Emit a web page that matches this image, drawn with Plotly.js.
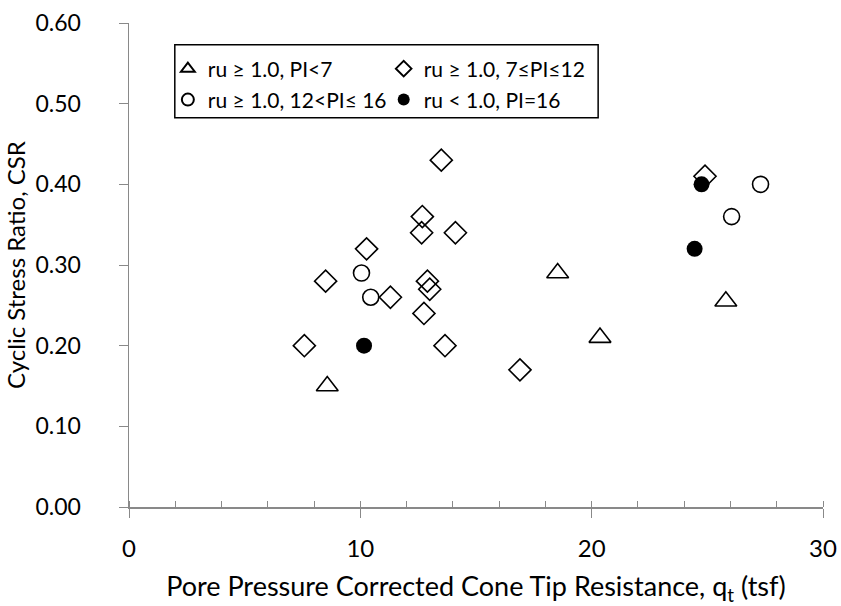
<!DOCTYPE html>
<html>
<head>
<meta charset="utf-8">
<script src="https://cdn.plot.ly/plotly-3.0.1.min.js"></script>
<style>html,body{margin:0;padding:0;background:#fff;}#chart{width:841px;height:606px;}</style>
</head>
<body>
<div id="chart"></div>
<script>
// Series: ru >= 1.0, PI < 7 (open triangles)
const triX = [8.57, 18.53, 20.36, 25.8];
const triY = [0.15, 0.29, 0.21, 0.255];
// Series: ru >= 1.0, 7 <= PI <= 12 (open diamonds)
const diaX = [7.58, 8.5, 10.27, 11.3, 12.75, 12.65, 12.68, 13.5, 14.11, 12.9, 13.0, 13.66, 16.9, 24.9];
const diaY = [0.20, 0.28, 0.32, 0.26, 0.24, 0.34, 0.36, 0.43, 0.34, 0.28, 0.27, 0.20, 0.17, 0.41];
// Series: ru >= 1.0, 12 < PI <= 16 (open circles)
const cirX = [10.05, 10.45, 26.05, 27.3];
const cirY = [0.29, 0.26, 0.36, 0.40];
// Series: ru < 1.0, PI = 16 (filled circles)
const filX = [10.16, 24.45, 24.75];
const filY = [0.20, 0.32, 0.40];

const names = ['ru ≥ 1.0, PI<7', 'ru ≥ 1.0, 7≤PI≤12', 'ru ≥ 1.0, 12<PI≤ 16', 'ru < 1.0, PI=16'];
const xTicks = [0, 10, 20, 30];
const yTicks = [0, 0.1, 0.2, 0.3, 0.4, 0.5, 0.6];

const FONT = 'Lato, "Open Sans", sans-serif';

const traces = [
  {x: triX, y: triY, name: names[0], legend: 'legend', type: 'scatter', mode: 'markers',
   marker: {symbol: 'triangle-up-open', size: 19, color: '#000', line: {width: 1.6, color: '#000'}}},
  {x: diaX, y: diaY, name: names[1], legend: 'legend2', type: 'scatter', mode: 'markers',
   marker: {symbol: 'diamond-open', size: 17, color: '#000', line: {width: 1.6, color: '#000'}}},
  {x: cirX, y: cirY, name: names[2], legend: 'legend3', type: 'scatter', mode: 'markers',
   marker: {symbol: 'circle-open', size: 16, color: '#000', line: {width: 1.6, color: '#000'}}},
  {x: filX, y: filY, name: names[3], legend: 'legend4', type: 'scatter', mode: 'markers',
   marker: {symbol: 'circle', size: 16, color: '#000', line: {width: 0}}}
];

function leg(x, y) {
  return {x: x, y: y, xanchor: 'left', yanchor: 'middle', bgcolor: 'rgba(0,0,0,0)',
          borderwidth: 0, itemsizing: 'constant', itemwidth: 30,
          font: {family: FONT, size: 21, color: '#000'}};
}

const layout = {
  width: 841, height: 606,
  margin: {l: 129, r: 18, t: 23, b: 99},
  paper_bgcolor: '#fff', plot_bgcolor: '#fff',
  font: {family: FONT, color: '#000'},
  showlegend: true,
  legend: leg(0.056, 0.905),
  legend2: leg(0.367, 0.905),
  legend3: leg(0.056, 0.841),
  legend4: leg(0.367, 0.841),
  xaxis: {
    range: [0, 30], tickvals: xTicks, ticktext: xTicks.map(String),
    showgrid: false, zeroline: false, showline: true, linecolor: '#898989', linewidth: 1.5,
    ticks: 'outside', ticklen: 9, tickcolor: '#898989', tickwidth: 1,
    ticklabelstandoff: 11,
    minor: {dtick: 2, ticks: 'inside', ticklen: 6, tickcolor: '#898989', tickwidth: 1, showgrid: false},
    tickfont: {family: FONT, size: 24, color: '#000'},
    title: {text: 'Pore Pressure Corrected Cone Tip Resistance, q<sub>t</sub> (tsf)',
            font: {family: FONT, size: 27, color: '#000'}, standoff: 18}
  },
  yaxis: {
    range: [0, 0.6], tickvals: yTicks, tickformat: '.2f',
    showgrid: false, zeroline: false, showline: true, linecolor: '#898989', linewidth: 1.5,
    ticks: 'outside', ticklen: 9, tickcolor: '#898989', tickwidth: 1,
    ticklabelstandoff: 33,
    tickfont: {family: FONT, size: 23, color: '#000'},
    title: {text: 'Cyclic Stress Ratio, CSR', font: {family: FONT, size: 24, color: '#000'}, standoff: 3}
  },
  shapes: [
    {type: 'rect', xref: 'paper', yref: 'paper', x0: 0.066, x1: 0.676, y0: 0.804, y1: 0.955,
     line: {color: '#000', width: 1.5}, fillcolor: 'rgba(0,0,0,0)', layer: 'below'}
  ]
};

Plotly.newPlot('chart', traces, layout, {staticPlot: true, displayModeBar: false});
</script>
</body>
</html>
